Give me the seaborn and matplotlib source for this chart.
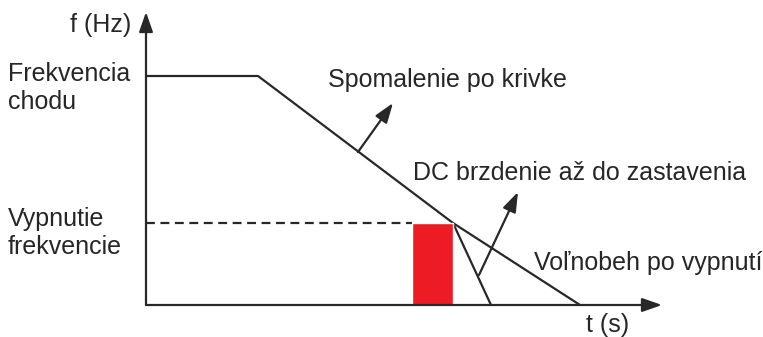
#========= frekvencia pri zastaveni - diagram =========

import numpy as np
import pandas as pd
import seaborn as sns
import matplotlib
matplotlib.use("Agg")
import matplotlib.pyplot as plt

sns.set_style("white")
plt.rcParams['font.family'] = ['Liberation Sans', 'DejaVu Sans']

# diagram units: t along x-axis, f along y-axis (origin at axis cross)
t_run_end = 112      # koniec konstantnej frekvencie
t_dc_start = 307     # zaciatok DC brzdenia
t_dc_stop = 345      # zastavenie DC brzdenim
t_coast_stop = 434   # zastavenie po krivke / volnobehom
f_run = 229          # frekvencia chodu
f_trip = 82          # vypnutie frekvencie
t_axis_len = 516
f_axis_len = 293

decel_t = [0, t_run_end, t_dc_start, t_coast_stop]
decel_f = [f_run, f_run, f_trip, 0]
dc_t = [t_dc_start, t_dc_stop]
dc_f = [f_trip, 0]

red_left = 266
red_right = t_dc_start

line_col = "#282828"
lw = 1.6
fs = 18

fig = plt.figure(figsize=(7.63, 3.37), dpi=100)
ax = fig.add_axes([0, 0, 1, 1])

df = pd.DataFrame({"t": decel_t, "f": decel_f})
sns.lineplot(data=df, x="t", y="f", sort=False, color=line_col, lw=lw, ax=ax)
sns.lineplot(x=dc_t, y=dc_f, sort=False, color=line_col, lw=lw, ax=ax)

# dashed trip level
ax.plot([0, red_left], [f_trip, f_trip], color=line_col, lw=lw, ls=(0, (4, 2.5)))

# red block
ax.bar((red_left + red_right) / 2, f_trip, width=red_right - red_left,
       color="#ed1c24", zorder=3)

# axes with arrows
arrow_kw = dict(arrowstyle="-|>,head_length=1.2,head_width=0.42",
                color=line_col, lw=lw, shrinkA=0, shrinkB=0)
ax.annotate("", xy=(t_axis_len, 0), xytext=(0, 0), arrowprops=arrow_kw)
ax.annotate("", xy=(0, f_axis_len), xytext=(0, 0), arrowprops=arrow_kw)

# pointer arrows
ax.annotate("", xy=(247, 202), xytext=(212, 153), arrowprops=arrow_kw)
ax.annotate("", xy=(372, 113), xytext=(333, 30), arrowprops=arrow_kw)

# texts
ax.text(-15, 280, "f (Hz)", fontsize=fs, ha="right", va="center")
ax.text(-138, 217, "Frekvencia\nchodu", fontsize=fs, ha="left", va="center", linespacing=1.2)
ax.text(182, 225, "Spomalenie po krivke", fontsize=fs, ha="left", va="center")
ax.text(267, 132, "DC brzdenie až do zastavenia", fontsize=fs, ha="left", va="center")
ax.text(-138, 72, "Vypnutie\nfrekvencie", fontsize=fs, ha="left", va="center", linespacing=1.2)
ax.text(388, 42, "Voľnobeh po vypnutí", fontsize=fs, ha="left", va="center")
ax.text(440, -20, "t (s)", fontsize=fs, ha="left", va="center")

ax.set_xlim(-146, 617)
ax.set_ylim(-32, 305)
ax.set_axis_off()

plt.savefig("out.png", dpi=100)
